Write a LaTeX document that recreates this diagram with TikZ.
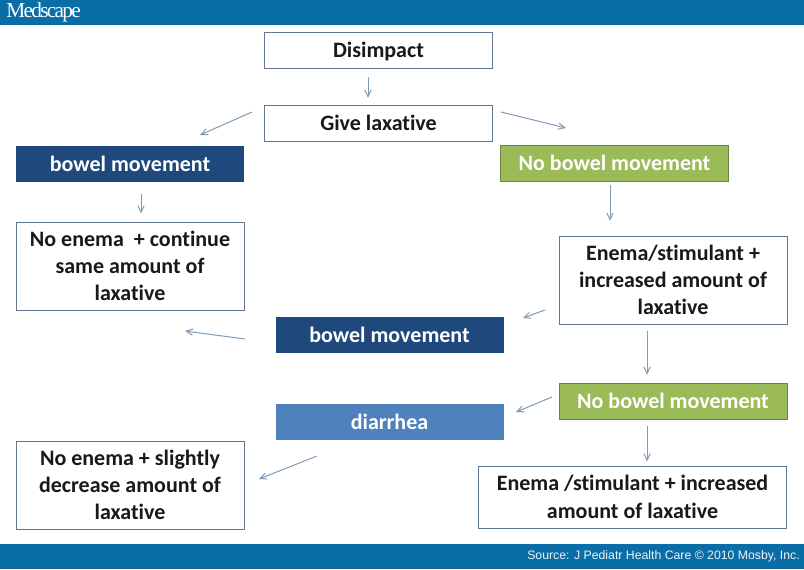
\documentclass[tikz,border=0pt]{standalone}
\usepackage{fontspec}
\setmainfont[Ligatures=NoCommon]{Carlito}
\newfontfamily\srcfont{Liberation Sans}
\newfontfamily\logofont[LetterSpace=-8]{Liberation Serif}
\definecolor{bar}{HTML}{0B6DA6}
\definecolor{edge}{HTML}{62768F}
\definecolor{navy}{HTML}{1F497D}
\definecolor{leaf}{HTML}{9BBB59}
\definecolor{midblue}{HTML}{4F81BD}
\definecolor{arrowc}{HTML}{7F9BB8}
\usetikzlibrary{arrows.meta}
\tikzset{
  x=0.75pt,y=-0.75pt,
  basebox/.style={minimum width=171pt,inner sep=0pt,align=center,font=\bfseries\fontsize{16.5}{20.5}\selectfont,text=black!90},
  plainbox/.style={basebox,draw=edge,line width=0.75pt,fill=white},
  navybox/.style={basebox,fill=navy,text=white,minimum height=27pt},
  greenbox/.style={basebox,fill=leaf,text=white,minimum height=27pt,draw=leaf!70!black,line width=0.4pt},
  bluebox/.style={basebox,fill=midblue,text=white,minimum height=27pt},
  conn/.style={draw=arrowc,line width=0.75pt,-{Straight Barb[length=5pt,width=7pt,angle'=50]}}
}
\begin{document}
\begin{tikzpicture}
\useasboundingbox (0,0) rectangle (804,569);
\fill[white] (0,0) rectangle (804,569);
\fill[bar] (0,0) rectangle (804,25);
\fill[bar] (0,544) rectangle (804,569);
\node[anchor=west,inner sep=0pt,text=white,font=\logofont\fontsize{16}{18}\selectfont] (logo) at (6,12.5) {Medscape};
\node[anchor=east,inner sep=0pt,text=white!92!bar,font=\srcfont\fontsize{9.2}{11}\selectfont] (src) at (800,556) {Source: J Pediatr Health Care © 2010 Mosby, Inc.};

\node[plainbox,minimum height=26.5pt] (dis) at (378.5,50.5) {\rule{0pt}{10.5pt}\smash{Disimpact}};
\node[plainbox,minimum height=27pt] (give) at (378.5,123) {Give laxative};
\node[navybox] (bm1) at (130,163.5) {bowel movement};
\node[greenbox] (nbm1) at (614.5,163) {No bowel movement};
\node[plainbox,minimum height=66pt] (ne1) at (130,266) {No enema\ \ + continue\\same amount of\\laxative};
\node[plainbox,minimum height=66pt] (en1) at (673,280) {Enema/stimulant +\\increased amount of\\laxative};
\node[navybox] (bm2) at (389.5,335) {bowel movement};
\node[greenbox] (nbm2) at (673,401) {No bowel movement};
\node[bluebox] (dia) at (389.5,422) {diarrhea};
\node[plainbox,minimum height=66pt] (ne2) at (130,485) {No enema + slightly\\decrease amount of\\laxative};
\node[plainbox,minimum width=231.5pt,minimum height=46.5pt] (en2) at (632.5,497) {Enema /stimulant + increased\\amount of laxative};

\coordinate (a1s) at (252,112); \coordinate (a1e) at (200,135);
\coordinate (a2s) at (501,112); \coordinate (a2e) at (566,128);
\coordinate (a3s) at (545,310); \coordinate (a3e) at (523,318);
\coordinate (a4s) at (245,339); \coordinate (a4e) at (185,331);
\coordinate (a5s) at (552,397); \coordinate (a5e) at (516,412);
\coordinate (a6s) at (317,456); \coordinate (a6e) at (259,479);

\draw[conn,shorten <=6pt,shorten >=5pt] (dis.south -| 368,0) -- (give.north -| 368,0);
\draw[conn] (a1s) -- (a1e);
\draw[conn] (a2s) -- (a2e);
\draw[conn,shorten <=9pt,shorten >=6pt] (bm1.south -| 141,0) -- (ne1.north -| 141,0);
\draw[conn,shorten <=3pt,shorten >=11pt] (nbm1.south -| 610,0) -- (en1.north -| 610,0);
\draw[conn] (a3s) -- (a3e);
\draw[conn,shorten <=5pt,shorten >=6pt] (en1.south -| 647,0) -- (nbm2.north -| 647,0);
\draw[conn] (a4s) -- (a4e);
\draw[conn] (a5s) -- (a5e);
\draw[conn,shorten <=5pt,shorten >=3pt] (nbm2.south -| 647,0) -- (en2.north -| 647,0);
\draw[conn] (a6s) -- (a6e);
\end{tikzpicture}
\end{document}
